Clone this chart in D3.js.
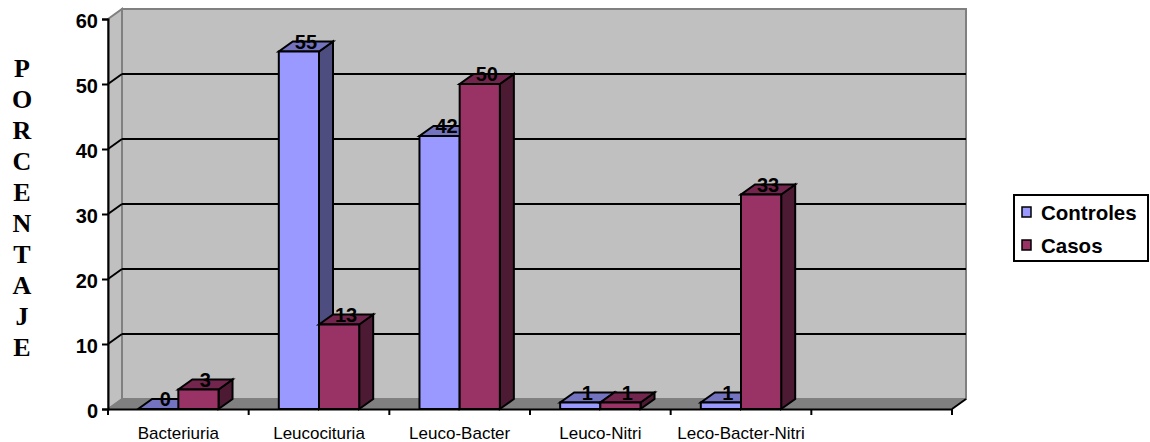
<!DOCTYPE html>
<html>
<head>
<meta charset="utf-8">
<script src="https://cdn.jsdelivr.net/npm/d3@7"></script>
<style>
  html, body { margin: 0; padding: 0; background: #fff; }
  svg { display: block; }
</style>
</head>
<body>
<svg id="chart" width="1150" height="442"></svg>
<script>
const categories = ["Bacteriuria", "Leucocituria", "Leuco-Bacter", "Leuco-Nitri", "Leco-Bacter-Nitri", ""];
const seriesNames = ["Controles", "Casos"];
const controles = [0, 55, 42, 1, 1, null];
const casos = [3, 13, 50, 1, 33, null];
const yTicks = [0, 10, 20, 30, 40, 50, 60];
const axisTitle = "PORCENTAJE";

const colors = {
  Controles: { front: "#9999FF", top: "#7373BF", side: "#4D4D80" },
  Casos: { front: "#993366", top: "#73264D", side: "#4D1A33" }
};

const svg = d3.select("#chart");
const DX = 14, DY = -10;
const left = 108, right = 952, bottom = 409, topY = 19;

const x = d3.scaleBand().domain(categories).range([left, right]).padding(0);
const xs = d3.scaleBand().domain(seriesNames).range([0, x.bandwidth()]).paddingInner(0).paddingOuter(0.75);
const y = d3.scaleLinear().domain([0, 60]).range([bottom, topY]);

const font = "Arial, 'Liberation Sans', sans-serif";

// Side wall (left)
svg.append("path")
  .attr("d", `M${left},${y(60)} L${left + DX},${y(60) + DY} L${left + DX},${y(0) + DY} L${left},${y(0)} Z`)
  .attr("fill", "#C0C0C0").attr("stroke", "#808080").attr("stroke-width", 2);

// Back wall
svg.append("rect")
  .attr("x", left + DX).attr("y", y(60) + DY)
  .attr("width", right - left).attr("height", y(0) - y(60))
  .attr("fill", "#C0C0C0").attr("stroke", "#808080").attr("stroke-width", 2);

// Floor
svg.append("path")
  .attr("d", `M${left},${y(0)} L${right},${y(0)} L${right + DX},${y(0) + DY} L${left + DX},${y(0) + DY} Z`)
  .attr("fill", "#808080");
svg.append("line")
  .attr("x1", right).attr("y1", y(0)).attr("x2", right + DX).attr("y2", y(0) + DY)
  .attr("stroke", "#000").attr("stroke-width", 2);

// Gridlines
const grid = yTicks.filter(t => t > 0 && t < 60);
const gg = svg.append("g");
grid.forEach(t => {
  gg.append("line")
    .attr("x1", left + DX).attr("x2", right + DX)
    .attr("y1", y(t) + DY).attr("y2", y(t) + DY)
    .attr("stroke", "#000").attr("stroke-width", 2);
  gg.append("line")
    .attr("x1", left).attr("x2", left + DX)
    .attr("y1", y(t)).attr("y2", y(t) + DY)
    .attr("stroke", "#000").attr("stroke-width", 2);
});

// Bars
const barsG = svg.append("g");
const labels = [];
categories.forEach((c, i) => {
  const vals = { Controles: controles[i], Casos: casos[i] };
  seriesNames.forEach(s => {
    const v = vals[s];
    if (v === null || v === undefined) return;
    const x0 = x(c) + xs(s);
    const w = xs.bandwidth();
    const yt = y(v), yb = y(0);
    const col = colors[s];
    const g = barsG.append("g").attr("stroke", "#000").attr("stroke-width", 2).attr("stroke-linejoin", "miter");
    g.append("path")
      .attr("d", `M${x0 + w},${yb} L${x0 + w + DX},${yb + DY} L${x0 + w + DX},${yt + DY} L${x0 + w},${yt} Z`)
      .attr("fill", col.side);
    g.append("path")
      .attr("d", `M${x0},${yt} L${x0 + w},${yt} L${x0 + w + DX},${yt + DY} L${x0 + DX},${yt + DY} Z`)
      .attr("fill", col.top);
    if (yb - yt > 0) {
      g.append("rect").attr("x", x0).attr("y", yt).attr("width", w).attr("height", yb - yt)
        .attr("fill", col.front);
    }
    labels.push({ x: x0 + w / 2 + DX / 2, y: yt - 3, v });
  });
});

// Y axis
const yAxis = d3.axisLeft(y).tickValues(yTicks).tickSize(6).tickPadding(4).tickFormat(d3.format("d"));
const yg = svg.append("g").attr("transform", `translate(${left},0)`).call(yAxis);
yg.select(".domain").attr("stroke", "#000").attr("stroke-width", 2);
yg.selectAll(".tick line").attr("stroke", "#000").attr("stroke-width", 2);
yg.selectAll(".tick text")
  .attr("font-family", font).attr("font-size", 20).attr("font-weight", "bold").attr("fill", "#000")
  .attr("dy", "0.42em");

// X axis
const xAxis = d3.axisBottom(x).tickSize(0).tickPadding(18);
const xg = svg.append("g").attr("transform", `translate(0,${bottom})`).call(xAxis);
xg.select(".domain").attr("stroke", "#000").attr("stroke-width", 2);
xg.selectAll(".tick text")
  .attr("font-family", font).attr("font-size", 17).attr("fill", "#000");
const bounds = categories.map(c => x(c)).concat([x.range()[1]]);
xg.selectAll("line.sep").data(bounds).enter().append("line")
  .attr("class", "sep")
  .attr("x1", d => d).attr("x2", d => d).attr("y1", 0).attr("y2", 6)
  .attr("stroke", "#000").attr("stroke-width", 2);

// Value labels
svg.append("g").selectAll("text").data(labels).enter().append("text")
  .attr("x", d => d.x).attr("y", d => d.y)
  .attr("text-anchor", "middle")
  .attr("font-family", font).attr("font-size", 20).attr("font-weight", "bold").attr("fill", "#000")
  .text(d => d.v);

// Vertical axis title
svg.append("g").selectAll("text").data(axisTitle.split("")).enter().append("text")
  .attr("x", 22).attr("y", (d, i) => 77 + i * 31)
  .attr("text-anchor", "middle")
  .attr("font-family", "'Times New Roman', 'Liberation Serif', serif")
  .attr("font-size", 26).attr("font-weight", "bold").attr("fill", "#000")
  .text(d => d);

// Legend
const lg = svg.append("g");
lg.append("rect").attr("x", 1014).attr("y", 195).attr("width", 134).attr("height", 66)
  .attr("fill", "#fff").attr("stroke", "#000").attr("stroke-width", 2);
seriesNames.forEach((s, i) => {
  const yy = 220 + i * 33;
  lg.append("rect").attr("x", 1022).attr("y", yy - 13).attr("width", 9).attr("height", 10)
    .attr("fill", colors[s].front).attr("stroke", "#000").attr("stroke-width", 1.5);
  lg.append("text").attr("x", 1041).attr("y", yy)
    .attr("font-family", font).attr("font-size", 20.5).attr("font-weight", "bold").attr("fill", "#000")
    .text(s);
});
</script>
</body>
</html>
